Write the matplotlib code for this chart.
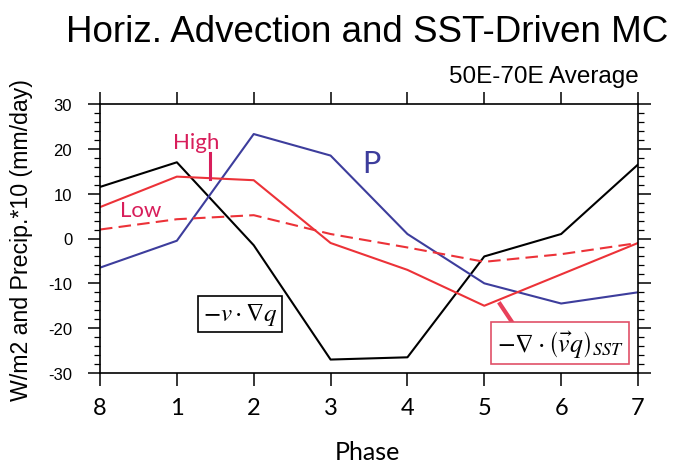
import matplotlib
matplotlib.use("Agg")
import matplotlib.pyplot as plt
from matplotlib.ticker import MultipleLocator

plt.rcParams["axes.unicode_minus"] = False

phase_labels = ["8", "1", "2", "3", "4", "5", "6", "7"]
adv_v_gradq = [11.5, 17.0, -1.5, -27.0, -26.5, -4.0, 1.0, 16.5]
precip_p = [-6.5, -0.5, 23.3, 18.5, 1.0, -10.0, -14.5, -12.0]
sst_high = [7.0, 13.8, 13.0, -1.0, -7.0, -15.0, -8.0, -1.0]
sst_low = [2.0, 4.3, 5.2, 1.0, -2.0, -5.2, -3.5, -1.0]

W, H = 676, 464
fig = plt.figure(figsize=(W / 100, H / 100), dpi=100)
ax = fig.add_axes([100 / W, 1 - 374 / H, 538 / W, 269 / H])

x = list(range(len(phase_labels)))
ax.plot(x, adv_v_gradq, color="black", lw=1.5)
ax.plot(x, precip_p, color="#3d3d9c", lw=1.5)
ax.plot(x, sst_high, color="#ec3238", lw=1.5)
ax.plot(x, sst_low, color="#ec3238", lw=1.5, ls=(0, (6, 3)))

ax.set_xlim(0, len(phase_labels) - 1)
ax.set_ylim(-30, 30)
ax.set_xticks(x)
ax.set_xticklabels(phase_labels, fontfamily="Lato", fontsize=17)
ax.yaxis.set_major_locator(MultipleLocator(10))
ax.yaxis.set_minor_locator(MultipleLocator(2))
ax.tick_params(axis="both", which="major", direction="out", length=9, width=1.1,
               top=True, right=True)
ax.tick_params(axis="y", which="minor", direction="out", length=4, width=0.9,
               right=True)
ax.tick_params(axis="y", labelsize=12, pad=11)
ax.tick_params(axis="x", pad=8)
for lab in ax.get_yticklabels():
    lab.set_fontfamily("Liberation Sans")
for s in ax.spines.values():
    s.set_linewidth(1.2)

def fx(px):
    return px / W

def fy(py):
    return 1 - py / H

fig.text(fx(367), fy(460), "Phase", ha="center", va="baseline",
         fontfamily="Lato", fontsize=18)
fig.text(fx(22), fy(240), "W/m2 and Precip.*10 (mm/day)", rotation=90,
         ha="center", va="center", fontfamily="Liberation Sans", fontsize=16.7)

fig.text(fx(367), fy(33), "Horiz. Advection and SST-Driven MC",
         ha="center", va="center", fontfamily="Liberation Sans", fontsize=26.5)
fig.text(fx(639), fy(77), "50E-70E Average",
         ha="right", va="center", fontfamily="Liberation Sans", fontsize=17.5)

# annotations
fig.text(fx(196), fy(143), "High", ha="center", va="center", color="#d81e5b",
         fontfamily="Lato", fontsize=16)
fig.text(fx(141), fy(211), "Low", ha="center", va="center", color="#d81e5b",
         fontfamily="Lato", fontsize=16)
fig.add_artist(plt.Line2D([fx(210), fx(210)], [fy(154), fy(180)],
                          color="#d81e5b", lw=2.2))
fig.text(fx(371), fy(164), "P", ha="center", va="center", color="#3d3d9c",
         fontfamily="Lato", fontsize=22)

fig.text(fx(240), fy(315), r"$-v\cdot\nabla q$", ha="center", va="center",
         fontsize=18, math_fontfamily="stix",
         bbox=dict(boxstyle="square,pad=0.2", fc="white", ec="black", lw=1.2))
fig.add_artist(plt.Line2D([fx(500), fx(512)], [fy(305), fy(323)],
                          color="#e8405a", lw=3))
fig.text(fx(560), fy(344), r"$-\nabla\cdot\left(\vec{v}q\right)_{SST}$",
         ha="center", va="center", fontsize=18.5, math_fontfamily="stix",
         bbox=dict(boxstyle="square,pad=0.2", fc="white", ec="#e05068", lw=1.2))

fig.savefig("out.png", dpi=100)
